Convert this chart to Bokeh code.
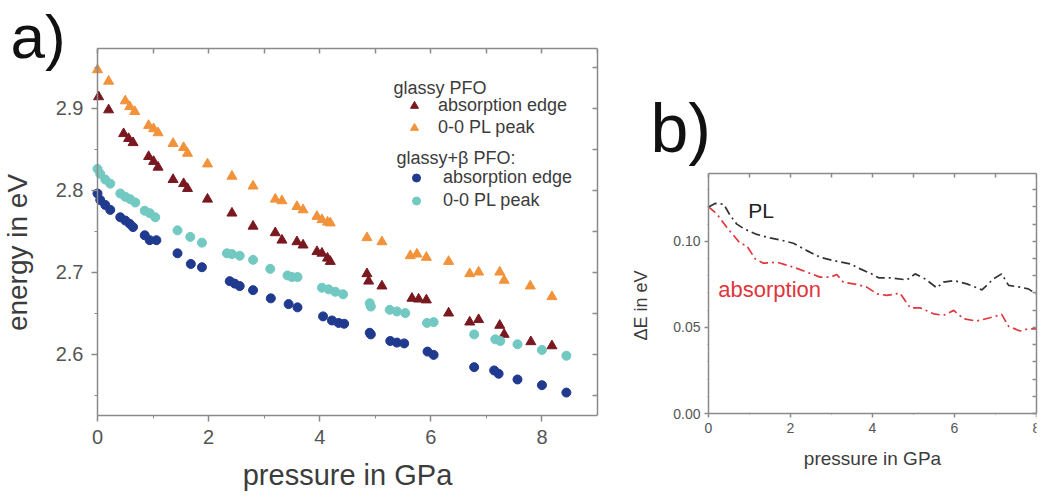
import math
from bokeh.plotting import figure
from bokeh.models import LinearAxis, Legend, LegendItem, Label, FixedTicker, NumeralTickFormatter
from bokeh.layouts import row, column
from bokeh.embed import file_html
from bokeh.resources import INLINE

FONT = "Liberation Sans"

# ---------------- panel a data ----------------
glassy_pl_x = [0.0, 0.20, 0.50, 0.58, 0.67, 0.92, 1.01, 1.09, 1.36, 1.55, 1.62, 1.98, 2.42, 2.80, 3.20, 3.32,
               3.59, 3.70, 3.95, 4.04, 4.14, 4.19, 4.85, 5.12, 5.63, 5.75, 5.92, 6.32, 6.70, 6.86, 7.24, 7.32,
               7.79, 8.18]
glassy_pl_y = [2.947, 2.933, 2.909, 2.902, 2.896, 2.879, 2.875, 2.870, 2.857, 2.852, 2.845, 2.832, 2.817, 2.805,
               2.789, 2.787, 2.780, 2.776, 2.768, 2.764, 2.761, 2.760, 2.742, 2.737, 2.720, 2.722, 2.718, 2.713,
               2.698, 2.700, 2.700, 2.690, 2.683, 2.670]

glassy_abs_x = [0.02, 0.20, 0.47, 0.56, 0.64, 0.92, 1.01, 1.09, 1.36, 1.55, 1.62, 1.98, 2.42, 2.80, 3.20, 3.32,
                3.59, 3.70, 3.95, 4.04, 4.14, 4.19, 4.85, 4.88, 5.12, 5.66, 5.78, 5.92, 6.32, 6.70, 6.86, 7.24,
                7.32, 7.80, 8.18]
glassy_abs_y = [2.914, 2.898, 2.869, 2.863, 2.858, 2.841, 2.835, 2.828, 2.813, 2.808, 2.802, 2.789, 2.772, 2.756,
                2.748, 2.739, 2.737, 2.733, 2.725, 2.723, 2.717, 2.713, 2.698, 2.689, 2.683, 2.668, 2.667, 2.666,
                2.650, 2.639, 2.642, 2.635, 2.624, 2.615, 2.610]

beta_pl_x = [0.0, 0.05, 0.14, 0.23, 0.41, 0.50, 0.59, 0.68, 0.85, 0.94, 1.04, 1.44, 1.67, 1.88, 2.33, 2.42, 2.56,
             2.80, 3.11, 3.42, 3.50, 3.60, 4.04, 4.16, 4.28, 4.42, 4.90, 4.92, 5.26, 5.39, 5.54, 5.93, 6.05, 6.78,
             7.16, 7.25, 7.56, 8.00, 8.44]
beta_pl_y = [2.826, 2.820, 2.813, 2.808, 2.796, 2.792, 2.789, 2.785, 2.775, 2.772, 2.767, 2.751, 2.743, 2.736,
             2.723, 2.722, 2.720, 2.715, 2.704, 2.696, 2.694, 2.694, 2.681, 2.679, 2.676, 2.673, 2.662, 2.658,
             2.654, 2.652, 2.650, 2.638, 2.639, 2.624, 2.618, 2.616, 2.612, 2.605, 2.598]

beta_abs_x = [0.0, 0.05, 0.14, 0.23, 0.41, 0.50, 0.58, 0.64, 0.85, 0.94, 1.06, 1.44, 1.68, 1.88, 2.38, 2.47, 2.56,
              2.80, 3.12, 3.44, 3.60, 4.06, 4.22, 4.34, 4.44, 4.90, 4.92, 5.27, 5.39, 5.52, 5.94, 6.05, 6.78,
              7.14, 7.22, 7.56, 8.00, 8.44]
beta_abs_y = [2.796, 2.788, 2.782, 2.776, 2.767, 2.763, 2.759, 2.755, 2.745, 2.739, 2.739, 2.723, 2.710, 2.706,
              2.689, 2.686, 2.683, 2.678, 2.668, 2.661, 2.657, 2.646, 2.641, 2.638, 2.637, 2.626, 2.624, 2.616,
              2.614, 2.613, 2.603, 2.599, 2.584, 2.580, 2.576, 2.569, 2.562, 2.553]

a_xlim = (0, 9)
a_ylim = (2.525, 2.973)
a_xticks = [0, 2, 4, 6, 8]
a_xminor = [1, 3, 5, 7]
a_yticks = [2.6, 2.7, 2.8, 2.9]
a_yminor = [2.55, 2.65, 2.75, 2.85, 2.95]

# ---------------- panel b data ----------------
dE_pl_x = [0, 0.16, 0.37, 0.53, 0.69, 0.89, 1.18, 1.50, 1.75, 2.07, 2.40, 2.72, 3.05, 3.46, 3.70, 3.98, 4.15,
           4.43, 4.84, 5.04, 5.28, 5.57, 5.73, 5.98, 6.30, 6.67, 6.95, 7.15, 7.32, 7.60, 7.80, 7.99]
dE_pl_y = [0.120, 0.122, 0.1216, 0.115, 0.110, 0.107, 0.104, 0.102, 0.1008, 0.0989, 0.0946, 0.0908, 0.0888,
           0.0869, 0.0840, 0.0811, 0.0788, 0.0788, 0.0776, 0.0811, 0.0782, 0.0730, 0.0763, 0.0772, 0.0753,
           0.0718, 0.0782, 0.0811, 0.0744, 0.0734, 0.0724, 0.0695]
dE_abs_x = [0, 0.2, 0.45, 0.77, 0.93, 1.14, 1.34, 1.67, 2.07, 2.40, 2.72, 2.97, 3.13, 3.29, 3.62, 3.86, 4.11,
            4.35, 4.67, 4.92, 5.16, 5.49, 5.73, 5.98, 6.22, 6.54, 6.87, 7.15, 7.32, 7.60, 7.80, 7.99]
dE_abs_y = [0.120, 0.116, 0.108, 0.0989, 0.0975, 0.0898, 0.0873, 0.0879, 0.0850, 0.0821, 0.0792, 0.0792,
            0.0807, 0.0763, 0.0749, 0.0734, 0.0695, 0.0686, 0.0699, 0.0614, 0.0614, 0.0579, 0.0570, 0.0599,
            0.0550, 0.0537, 0.0556, 0.0576, 0.0506, 0.0479, 0.0492, 0.0492]

b_xlim = (0, 8)
b_ylim = (0, 0.1394)
b_xticks = [0, 2, 4, 6, 8]
b_xminor = [1, 3, 5, 7]
b_yticks = [0.0, 0.05, 0.10]
b_yminor = [0.01, 0.02, 0.03, 0.04, 0.06, 0.07, 0.08, 0.09, 0.11, 0.12, 0.13]

C_DRED = "#7a1820"
C_ORANGE = "#f2923a"
C_NAVY = "#1f3a8f"
C_TEAL = "#72c9c1"
AXC = "#8a8a8a"
TXT = "#3c3c3c"
TICKTXT = "#555555"


def style_axis(ax, ticks, minor, label_size, tick_out, tick_in, standoff, bounds, show_labels=True):
    ax.ticker = FixedTicker(ticks=ticks, minor_ticks=minor)
    ax.bounds = bounds
    ax.axis_line_color = AXC
    ax.axis_line_width = 1.5
    ax.major_tick_line_color = AXC
    ax.minor_tick_line_color = AXC
    ax.major_tick_line_width = 1.5
    ax.major_tick_out = tick_out
    ax.major_tick_in = tick_in
    ax.minor_tick_out = max(tick_out - 3, 0)
    ax.minor_tick_in = max(tick_in - 2, 0)
    ax.major_label_standoff = standoff
    ax.major_label_text_font = FONT
    ax.major_label_text_color = TICKTXT
    ax.major_label_text_font_size = label_size
    if not show_labels:
        ax.major_label_overrides = {t: "" for t in ticks}
    ax.axis_label_text_font = FONT
    ax.axis_label_text_font_style = "normal"
    ax.axis_label_text_color = TXT


def widen(lim, px_frame, px_lo, px_hi):
    """range obtained when the panel box (px_frame pixels) is widened by px_lo / px_hi pixels"""
    per_px = (lim[1] - lim[0]) / px_frame
    return (lim[0] - per_px * px_lo, lim[1] + per_px * px_hi)


# ================= panel a =================
# The frame fills the whole canvas so the tags and titles drawn inside it are not clipped;
# the visible box is drawn by four bounded axes fixed at the data limits.
pa = figure(width=620, height=500,
            x_range=widen(a_xlim, 500, 97, 0),
            y_range=widen(a_ylim, 367, 85, 48),
            output_backend="svg", toolbar_location=None,
            min_border_left=0, min_border_right=23, min_border_top=0, min_border_bottom=0)
pa.grid.visible = False
pa.outline_line_color = None
pa.background_fill_color = "white"
pa.border_fill_color = "white"

xa = pa.xaxis[0]
style_axis(xa, a_xticks, a_xminor, "20px", 6, 0, 8, a_xlim)
xa.fixed_location = a_ylim[0]
ya = pa.yaxis[0]
style_axis(ya, a_yticks, a_yminor, "20px", 6, 0, 8, a_ylim)
ya.fixed_location = a_xlim[0]

top_a = LinearAxis(fixed_location=a_ylim[1])
style_axis(top_a, list(range(0, 10)), [], "10px", 0, 5, 0, a_xlim, show_labels=False)
pa.add_layout(top_a, "above")
right_a = LinearAxis()
style_axis(right_a, a_yticks + a_yminor, [], "10px", 0, 5, 0, a_ylim, show_labels=False)
pa.add_layout(right_a, "right")

r_gabs = pa.scatter(glassy_abs_x, glassy_abs_y, marker="triangle", size=10, color=C_DRED)
r_gpl = pa.scatter(glassy_pl_x, glassy_pl_y, marker="triangle", size=10, color=C_ORANGE)
r_babs = pa.scatter(beta_abs_x, beta_abs_y, marker="circle", size=9, color=C_NAVY)
r_bpl = pa.scatter(beta_pl_x, beta_pl_y, marker="circle", size=9, color=C_TEAL)


def make_legend(items, loc, spacing, standoff):
    lg = Legend(items=items, location=loc, orientation="vertical")
    lg.padding = 0
    lg.margin = 0
    lg.spacing = spacing
    lg.glyph_width = 20
    lg.glyph_height = 21
    lg.label_height = 21
    lg.label_standoff = standoff
    lg.label_text_font = FONT
    lg.label_text_font_size = "18px"
    lg.label_text_color = TXT
    lg.border_line_alpha = 0
    lg.background_fill_alpha = 0
    return lg


leg1 = make_legend([LegendItem(label="absorption edge", renderers=[r_gabs]),
                    LegendItem(label="0-0 PL peak", renderers=[r_gpl])], (404, 362), 1, 14)
leg2 = make_legend([LegendItem(label="absorption edge", renderers=[r_babs]),
                    LegendItem(label="0-0 PL peak", renderers=[r_bpl])], (406, 289), 2, 17)
pa.add_layout(leg1)
pa.add_layout(leg2)

for txt, xx, yy in [("glassy PFO", 393, 413), ("glassy+\u03b2 PFO:", 396, 343)]:
    pa.add_layout(Label(x=xx, y=yy, x_units="screen", y_units="screen", text=txt,
                        text_font=FONT, text_font_size="18px", text_color=TXT,
                        text_baseline="middle"))

# axis titles
pa.add_layout(Label(x=sum(a_xlim) / 2, y=26, y_units="screen", text="pressure in GPa",
                    text_font=FONT, text_font_size="29px", text_color=TXT,
                    text_align="center", text_baseline="middle"))
pa.add_layout(Label(x=17, y=248, x_units="screen", y_units="screen", text="energy in eV",
                    angle=math.pi / 2, text_font=FONT, text_font_size="28px", text_color=TXT,
                    text_align="center", text_baseline="middle"))
pa.add_layout(Label(x=10, y=499, x_units="screen", y_units="screen", text="a)",
                    text_font=FONT, text_font_size="62px", text_color="#111111",
                    text_baseline="top"))

# ================= panel b =================
pb = figure(width=424, height=500,
            x_range=widen(b_xlim, 328, 88, 0),
            y_range=widen(b_ylim, 240, 87, 173),
            output_backend="svg", toolbar_location=None,
            min_border_left=0, min_border_right=8, min_border_top=0, min_border_bottom=0)
pb.grid.visible = False
pb.outline_line_color = None
pb.background_fill_color = "white"
pb.border_fill_color = "white"

xb = pb.xaxis[0]
style_axis(xb, b_xticks, b_xminor, "14px", 4, 0, 5, b_xlim)
xb.fixed_location = b_ylim[0]
yb = pb.yaxis[0]
style_axis(yb, b_yticks, b_yminor, "14px", 4, 0, 4, b_ylim)
yb.fixed_location = b_xlim[0]
yb.formatter = NumeralTickFormatter(format="0.00")

top_b = LinearAxis(fixed_location=b_ylim[1])
style_axis(top_b, list(range(0, 9)), [], "10px", 0, 4, 0, b_xlim, show_labels=False)
pb.add_layout(top_b, "above")
right_b = LinearAxis()
style_axis(right_b, b_yticks + b_yminor, [], "10px", 0, 4, 0, b_ylim, show_labels=False)
pb.add_layout(right_b, "right")

pb.line(dE_abs_x, dE_abs_y, line_color="#e0363c", line_width=1.7, line_dash="9 4 2 4")
pb.line(dE_pl_x, dE_pl_y, line_color="#333333", line_width=1.7, line_dash="9 4 2 4")

pb.add_layout(Label(x=0.97, y=0.118, text="PL", text_font=FONT, text_font_size="21px",
                    text_color="#222222", text_baseline="middle"))
pb.add_layout(Label(x=0.24, y=0.072, text="absorption", text_font=FONT, text_font_size="22px",
                    text_color="#e0363c", text_baseline="middle"))
pb.add_layout(Label(x=sum(b_xlim) / 2, y=42, y_units="screen", text="pressure in GPa",
                    text_font=FONT, text_font_size="19px", text_color=TXT,
                    text_align="center", text_baseline="middle"))
pb.add_layout(Label(x=20, y=195, x_units="screen", y_units="screen", text="\u0394E in eV",
                    angle=math.pi / 2, text_font=FONT, text_font_size="18px", text_color=TXT,
                    text_align="center", text_baseline="middle"))
pb.add_layout(Label(x=30, y=373, x_units="screen", y_units="screen", text="b)",
                    text_font=FONT, text_font_size="68px", text_color="#111111",
                    text_baseline="middle"))

layout = row(column(pa), column(pb))
open("out.html", "w").write(file_html(layout, INLINE))
